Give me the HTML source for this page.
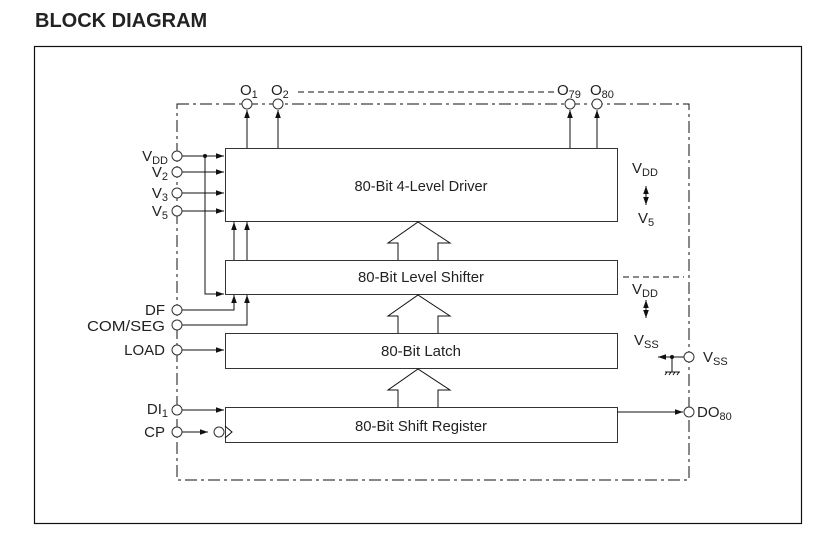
<!DOCTYPE html>
<html><head><style>body{margin:0;background:#fff}svg{display:block}text{font-family:"Liberation Sans",Arial,sans-serif;fill:#222}</style></head><body>
<svg width="828" height="548" viewBox="0 0 828 548" xmlns="http://www.w3.org/2000/svg">
<defs><marker id="a" viewBox="0 0 10 10" refX="10" refY="5" markerWidth="8" markerHeight="8" orient="auto"><path d="M0,1.5 L10,5 L0,8.5 z" fill="#111"/></marker></defs>
<text x="35" y="27" font-size="20" font-weight="bold">BLOCK DIAGRAM</text>
<rect x="34.5" y="46.5" width="767" height="477" fill="none" stroke="#111" stroke-width="1.2"/>
<g fill="none" stroke="#111" stroke-width="1">
<path d="M177,104 H689 V480 H177 Z" stroke-dasharray="12,4,3,4"/>
<path d="M298,92 H555" stroke-dasharray="6,4"/>
<path d="M623,277 H684" stroke-dasharray="6,4"/>
<rect x="225.5" y="148.5" width="392" height="73" stroke="#333"/>
<rect x="225.5" y="260.5" width="392" height="34" stroke="#333"/>
<rect x="225.5" y="333.5" width="392" height="35" stroke="#333"/>
<rect x="225.5" y="407.5" width="392" height="35" stroke="#333"/>
<path d="M398,260 V243 H388 L418,222 L450,243 H438 V260"/>
<path d="M398,333 V316 H388 L418,295 L450,316 H438 V333"/>
<path d="M398,407 V390 H388 L418,369 L450,390 H438 V407"/>
<path d="M182,156 H224" marker-end="url(#a)"/>
<path d="M182,172 H224" marker-end="url(#a)"/>
<path d="M182,193 H224" marker-end="url(#a)"/>
<path d="M182,211 H224" marker-end="url(#a)"/>
<path d="M205,156 V294 H224" marker-end="url(#a)"/>
<path d="M234,260 V222" marker-end="url(#a)"/>
<path d="M247,260 V222" marker-end="url(#a)"/>
<path d="M182,310 H234 V295" marker-end="url(#a)"/>
<path d="M182,325 H247 V295" marker-end="url(#a)"/>
<path d="M182,350 H224" marker-end="url(#a)"/>
<path d="M182,410 H224" marker-end="url(#a)"/>
<path d="M182,432 H208" marker-end="url(#a)"/>
<path d="M225,426 L232,432 L225,438"/>
<path d="M247,148 V110" marker-end="url(#a)"/>
<path d="M278,148 V110" marker-end="url(#a)"/>
<path d="M570,148 V110" marker-end="url(#a)"/>
<path d="M597,148 V110" marker-end="url(#a)"/>
<path d="M617,412 H683" marker-end="url(#a)"/>
<path d="M684,357 H658" marker-end="url(#a)"/>
<path d="M672,357 V372 M665,372 H680 M667,372 l-2,3 M671,372 l-2,3 M675,372 l-2,3 M679,372 l-2,3"/>
<path d="M646,195 V186" marker-end="url(#a)"/><path d="M646,195 V205" marker-end="url(#a)"/>
<path d="M646,309 V300" marker-end="url(#a)"/><path d="M646,309 V318" marker-end="url(#a)"/>
</g>
<g fill="#fff" stroke="#333" stroke-width="1">
<circle cx="177" cy="156" r="5"/><circle cx="177" cy="172" r="5"/><circle cx="177" cy="193" r="5"/><circle cx="177" cy="211" r="5"/>
<circle cx="177" cy="310" r="5"/><circle cx="177" cy="325" r="5"/><circle cx="177" cy="350" r="5"/>
<circle cx="177" cy="410" r="5"/><circle cx="177" cy="432" r="5"/>
<circle cx="247" cy="104" r="5"/><circle cx="278" cy="104" r="5"/><circle cx="570" cy="104" r="5"/><circle cx="597" cy="104" r="5"/>
<circle cx="689" cy="357" r="5"/><circle cx="689" cy="412" r="5"/><circle cx="219" cy="432" r="5"/>
</g>
<circle cx="205" cy="156" r="2" fill="#111"/><circle cx="672" cy="357" r="2" fill="#111"/>
<g font-size="15">
<text x="421" y="191" text-anchor="middle" textLength="133" lengthAdjust="spacingAndGlyphs">80-Bit 4-Level Driver</text>
<text x="421" y="282" text-anchor="middle" textLength="126" lengthAdjust="spacingAndGlyphs">80-Bit Level Shifter</text>
<text x="421" y="356" text-anchor="middle" textLength="80" lengthAdjust="spacingAndGlyphs">80-Bit Latch</text>
<text x="421" y="431" text-anchor="middle" textLength="132" lengthAdjust="spacingAndGlyphs">80-Bit Shift Register</text>
<g text-anchor="end">
<text x="168" y="161">V<tspan font-size="11" dy="3">DD</tspan></text>
<text x="168" y="177">V<tspan font-size="11" dy="3">2</tspan></text>
<text x="168" y="198">V<tspan font-size="11" dy="3">3</tspan></text>
<text x="168" y="216">V<tspan font-size="11" dy="3">5</tspan></text>
<text x="165" y="315">DF</text>
<text x="165" y="331" textLength="78" lengthAdjust="spacingAndGlyphs">COM/SEG</text>
<text x="165" y="355">LOAD</text>
<text x="168" y="414">DI<tspan font-size="11" dy="3">1</tspan></text>
<text x="165" y="437">CP</text>
</g>
<text x="240" y="95">O<tspan font-size="11" dy="3">1</tspan></text>
<text x="271" y="95">O<tspan font-size="11" dy="3">2</tspan></text>
<text x="557" y="95">O<tspan font-size="11" dy="3">79</tspan></text>
<text x="590" y="95">O<tspan font-size="11" dy="3">80</tspan></text>
<text x="632" y="173">V<tspan font-size="11" dy="3">DD</tspan></text>
<text x="638" y="223">V<tspan font-size="11" dy="3">5</tspan></text>
<text x="632" y="294">V<tspan font-size="11" dy="3">DD</tspan></text>
<text x="634" y="345">V<tspan font-size="11" dy="3">SS</tspan></text>
<text x="703" y="362">V<tspan font-size="11" dy="3">SS</tspan></text>
<text x="697" y="417">DO<tspan font-size="11" dy="3">80</tspan></text>
</g>
</svg>
</body></html>
